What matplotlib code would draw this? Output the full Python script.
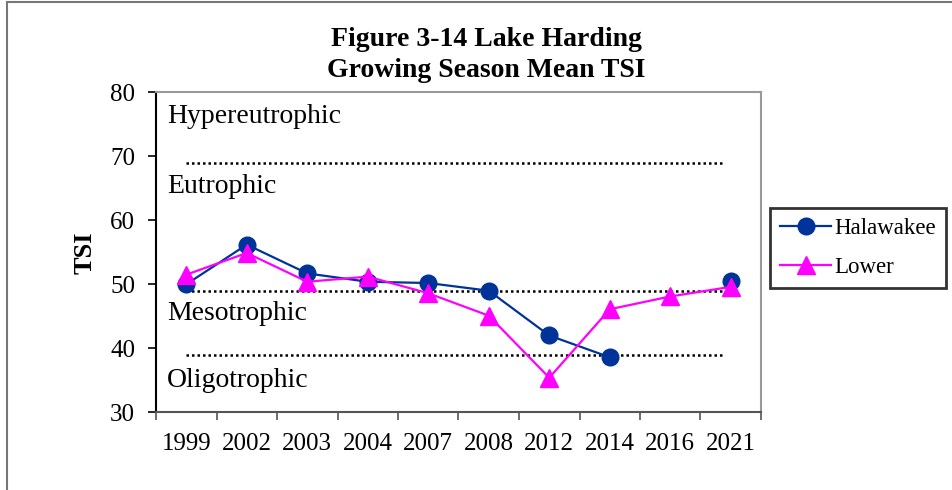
#!/usr/bin/env python3

import matplotlib
matplotlib.use("Agg")
import matplotlib.pyplot as plt
import numpy as np
from matplotlib.patches import Rectangle

plt.rcParams["font.family"] = ["Liberation Serif", "DejaVu Serif"]

years = ["1999", "2002", "2003", "2004", "2007", "2008", "2012", "2014", "2016", "2021"]
halawakee = [50.0, 56.2, 51.7, 50.4, 50.2, 49.0, 42.0, 38.6, np.nan, 50.5]
lower = [51.5, 54.9, 50.4, 51.2, 48.6, 45.1, 35.4, 46.1, 48.1, 49.6]

levels = [69, 49, 39]
level_names = ["Hypereutrophic", "Eutrophic", "Mesotrophic", "Oligotrophic"]
level_text_y = [75.2, 64.2, 44.5, 34.0]

fig = plt.figure(figsize=(9.53, 4.90), dpi=100)
ax = fig.add_axes([156 / 953, 1 - 412.3 / 490, 605 / 953, 320 / 490])

x = np.arange(len(years))

# trophic level boundaries
for lv in levels:
    ax.hlines(lv, 0, 8.88, colors="black", linestyles=(0, (1, 1.2)), lw=1.8, zorder=1)
for name, ty in zip(level_names, level_text_y):
    ax.text(-0.32, ty, name, fontsize=20, va="baseline", ha="left", zorder=2)

ax.plot(x, halawakee, color="#003399", lw=1.6, marker="o", markersize=12,
        label="Halawakee", zorder=3)
ax.plot(x, lower, color="#FF00FF", lw=1.6, marker="^", markersize=12.5,
        label="Lower", zorder=4)

ax.set_xlim(-0.5, len(years) - 0.5)
ax.set_ylim(30, 80)
ax.set_yticks(range(30, 81, 10))
ax.set_xticks([i - 0.5 for i in range(len(years) + 1)])
ax.set_xticklabels([])
ax.set_xticks(x, minor=True)
ax.set_xticklabels(years, minor=True, fontsize=18)
ax.tick_params(axis="x", which="major", direction="out", length=6, width=1.2, color="#555555")
ax.tick_params(axis="x", which="minor", length=0, pad=15)
ax.tick_params(axis="y", direction="out", length=6, width=1.2, labelsize=18, pad=9)

ax.set_ylabel("TSI", fontsize=19, fontweight="bold", labelpad=10)

ax.spines["left"].set_color("black")
ax.spines["bottom"].set_color("#555555")
ax.spines["top"].set_color("#999999")
ax.spines["right"].set_color("#999999")
for s in ax.spines.values():
    s.set_linewidth(1.5)

leg = ax.legend(loc="center left", bbox_to_anchor=(770 / 953, 1 - 248 / 490),
                bbox_transform=fig.transFigure, fontsize=16.5, frameon=True,
                fancybox=False, edgecolor="black", handlelength=2.2,
                handletextpad=0.15, labelspacing=0.75, borderpad=0.45,
                borderaxespad=0)
leg.get_frame().set_linewidth(2)

fig.text(486 / 953, 1 - 55 / 490, "Figure 3-14 Lake Harding\nGrowing Season Mean TSI",
         ha="center", va="center", fontsize=20, fontweight="bold", linespacing=1.3)

fig.patches.append(Rectangle((6.5 / 953, -0.1), 1.2, 1 - 1.5 / 490 + 0.1,
                             transform=fig.transFigure, fill=False,
                             ec="#777777", lw=1.5))

fig.savefig("out.png", dpi=100)
plt.close(fig)
